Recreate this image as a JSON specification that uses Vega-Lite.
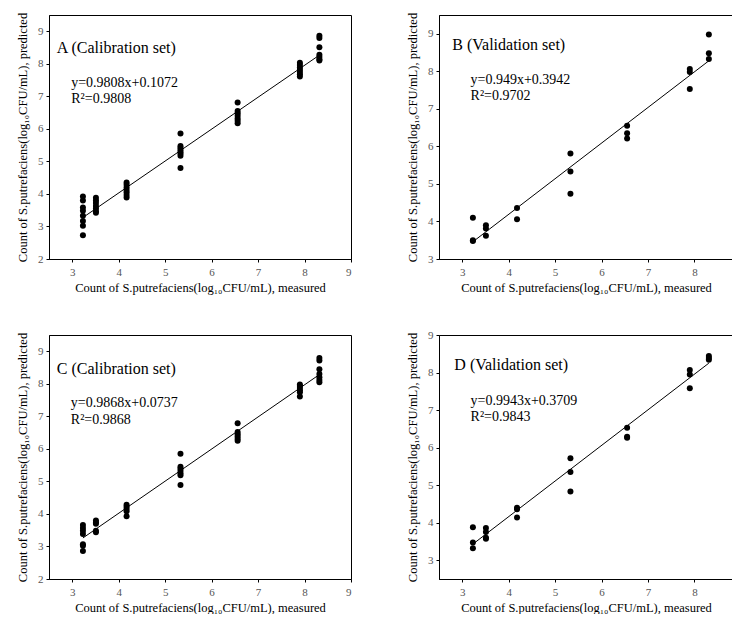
{
 "$schema": "https://vega.github.io/schema/vega-lite/v6.json",
 "background": "white",
 "padding": {"left": 15, "top": 11, "right": 0, "bottom": 0},
 "config": {
   "font": "Liberation Serif",
   "view": {"stroke": "black", "strokeWidth": 1},
   "axis": {"domainColor": "black", "tickColor": "black", "tickSize": 3, "grid": false,
            "labelFont": "Liberation Serif", "labelFontSize": 11, "labelColor": "#555", "labelOverlap": false,
            "titleFont": "Liberation Serif", "titleFontSize": 12.5, "titleFontWeight": "normal", "titleColor": "black"},
   "axisX": {"labelPadding": 4, "titlePadding": 4},
   "axisY": {"labelPadding": 3, "titlePadding": 8},
   "text": {"font": "Liberation Serif", "color": "black"}
 },
 "datasets": {
  "A": [
   {"measured":3.23,"predicted":3.92,"kind":"point"},{"measured":3.23,"predicted":3.80,"kind":"point"},{"measured":3.23,"predicted":3.58,"kind":"point"},{"measured":3.23,"predicted":3.48,"kind":"point"},{"measured":3.23,"predicted":3.33,"kind":"point"},{"measured":3.23,"predicted":3.17,"kind":"point"},{"measured":3.23,"predicted":3.02,"kind":"point"},{"measured":3.23,"predicted":2.73,"kind":"point"},
   {"measured":3.51,"predicted":3.88,"kind":"point"},{"measured":3.51,"predicted":3.80,"kind":"point"},{"measured":3.51,"predicted":3.72,"kind":"point"},{"measured":3.51,"predicted":3.63,"kind":"point"},{"measured":3.51,"predicted":3.55,"kind":"point"},{"measured":3.51,"predicted":3.47,"kind":"point"},{"measured":3.51,"predicted":3.42,"kind":"point"},
   {"measured":4.17,"predicted":4.35,"kind":"point"},{"measured":4.17,"predicted":4.28,"kind":"point"},{"measured":4.17,"predicted":4.20,"kind":"point"},{"measured":4.17,"predicted":4.12,"kind":"point"},{"measured":4.17,"predicted":4.05,"kind":"point"},{"measured":4.17,"predicted":3.97,"kind":"point"},{"measured":4.17,"predicted":3.89,"kind":"point"},
   {"measured":5.33,"predicted":5.86,"kind":"point"},{"measured":5.33,"predicted":5.47,"kind":"point"},{"measured":5.33,"predicted":5.42,"kind":"point"},{"measured":5.33,"predicted":5.36,"kind":"point"},{"measured":5.33,"predicted":5.30,"kind":"point"},{"measured":5.33,"predicted":5.24,"kind":"point"},{"measured":5.33,"predicted":5.17,"kind":"point"},{"measured":5.33,"predicted":4.80,"kind":"point"},
   {"measured":6.56,"predicted":6.81,"kind":"point"},{"measured":6.56,"predicted":6.55,"kind":"point"},{"measured":6.56,"predicted":6.48,"kind":"point"},{"measured":6.56,"predicted":6.40,"kind":"point"},{"measured":6.56,"predicted":6.32,"kind":"point"},{"measured":6.56,"predicted":6.25,"kind":"point"},{"measured":6.56,"predicted":6.17,"kind":"point"},
   {"measured":7.9,"predicted":8.03,"kind":"point"},{"measured":7.9,"predicted":7.96,"kind":"point"},{"measured":7.9,"predicted":7.89,"kind":"point"},{"measured":7.9,"predicted":7.82,"kind":"point"},{"measured":7.9,"predicted":7.75,"kind":"point"},{"measured":7.9,"predicted":7.68,"kind":"point"},{"measured":7.9,"predicted":7.61,"kind":"point"},
   {"measured":8.32,"predicted":8.86,"kind":"point"},{"measured":8.32,"predicted":8.79,"kind":"point"},{"measured":8.32,"predicted":8.51,"kind":"point"},{"measured":8.32,"predicted":8.28,"kind":"point"},{"measured":8.32,"predicted":8.21,"kind":"point"},{"measured":8.32,"predicted":8.14,"kind":"point"},{"measured":8.32,"predicted":8.10,"kind":"point"},
   {"measured":3.23,"predicted":3.275,"kind":"fit"},{"measured":8.32,"predicted":8.267,"kind":"fit"}
  ],
  "B": [
   {"measured":3.23,"predicted":4.10,"kind":"point"},{"measured":3.23,"predicted":3.50,"kind":"point"},{"measured":3.23,"predicted":3.48,"kind":"point"},
   {"measured":3.51,"predicted":3.90,"kind":"point"},{"measured":3.51,"predicted":3.81,"kind":"point"},{"measured":3.51,"predicted":3.62,"kind":"point"},
   {"measured":4.18,"predicted":4.36,"kind":"point"},{"measured":4.18,"predicted":4.06,"kind":"point"},
   {"measured":5.33,"predicted":5.81,"kind":"point"},{"measured":5.33,"predicted":5.33,"kind":"point"},{"measured":5.33,"predicted":4.74,"kind":"point"},
   {"measured":6.55,"predicted":6.55,"kind":"point"},{"measured":6.55,"predicted":6.35,"kind":"point"},{"measured":6.55,"predicted":6.21,"kind":"point"},
   {"measured":7.9,"predicted":8.06,"kind":"point"},{"measured":7.9,"predicted":7.98,"kind":"point"},{"measured":7.9,"predicted":7.53,"kind":"point"},
   {"measured":8.31,"predicted":8.98,"kind":"point"},{"measured":8.31,"predicted":8.48,"kind":"point"},{"measured":8.31,"predicted":8.33,"kind":"point"},
   {"measured":3.23,"predicted":3.459,"kind":"fit"},{"measured":8.31,"predicted":8.280,"kind":"fit"}
  ],
  "C": [
   {"measured":3.23,"predicted":3.66,"kind":"point"},{"measured":3.23,"predicted":3.57,"kind":"point"},{"measured":3.23,"predicted":3.48,"kind":"point"},{"measured":3.23,"predicted":3.38,"kind":"point"},{"measured":3.23,"predicted":3.07,"kind":"point"},{"measured":3.23,"predicted":3.02,"kind":"point"},{"measured":3.23,"predicted":2.86,"kind":"point"},
   {"measured":3.51,"predicted":3.80,"kind":"point"},{"measured":3.51,"predicted":3.74,"kind":"point"},{"measured":3.51,"predicted":3.70,"kind":"point"},{"measured":3.51,"predicted":3.48,"kind":"point"},{"measured":3.51,"predicted":3.44,"kind":"point"},
   {"measured":4.17,"predicted":4.28,"kind":"point"},{"measured":4.17,"predicted":4.22,"kind":"point"},{"measured":4.17,"predicted":4.15,"kind":"point"},{"measured":4.17,"predicted":4.08,"kind":"point"},{"measured":4.17,"predicted":3.93,"kind":"point"},
   {"measured":5.33,"predicted":5.85,"kind":"point"},{"measured":5.33,"predicted":5.45,"kind":"point"},{"measured":5.33,"predicted":5.40,"kind":"point"},{"measured":5.33,"predicted":5.33,"kind":"point"},{"measured":5.33,"predicted":5.25,"kind":"point"},{"measured":5.33,"predicted":5.19,"kind":"point"},{"measured":5.33,"predicted":4.89,"kind":"point"},
   {"measured":6.56,"predicted":6.79,"kind":"point"},{"measured":6.56,"predicted":6.52,"kind":"point"},{"measured":6.56,"predicted":6.45,"kind":"point"},{"measured":6.56,"predicted":6.38,"kind":"point"},{"measured":6.56,"predicted":6.31,"kind":"point"},{"measured":6.56,"predicted":6.25,"kind":"point"},
   {"measured":7.9,"predicted":7.98,"kind":"point"},{"measured":7.9,"predicted":7.93,"kind":"point"},{"measured":7.9,"predicted":7.87,"kind":"point"},{"measured":7.9,"predicted":7.80,"kind":"point"},{"measured":7.9,"predicted":7.74,"kind":"point"},{"measured":7.9,"predicted":7.61,"kind":"point"},
   {"measured":8.32,"predicted":8.79,"kind":"point"},{"measured":8.32,"predicted":8.72,"kind":"point"},{"measured":8.32,"predicted":8.45,"kind":"point"},{"measured":8.32,"predicted":8.30,"kind":"point"},{"measured":8.32,"predicted":8.20,"kind":"point"},{"measured":8.32,"predicted":8.12,"kind":"point"},{"measured":8.32,"predicted":8.05,"kind":"point"},
   {"measured":3.23,"predicted":3.261,"kind":"fit"},{"measured":8.32,"predicted":8.284,"kind":"fit"}
  ],
  "D": [
   {"measured":3.23,"predicted":3.88,"kind":"point"},{"measured":3.23,"predicted":3.47,"kind":"point"},{"measured":3.23,"predicted":3.32,"kind":"point"},
   {"measured":3.51,"predicted":3.86,"kind":"point"},{"measured":3.51,"predicted":3.75,"kind":"point"},{"measured":3.51,"predicted":3.60,"kind":"point"},{"measured":3.51,"predicted":3.57,"kind":"point"},
   {"measured":4.18,"predicted":4.40,"kind":"point"},{"measured":4.18,"predicted":4.36,"kind":"point"},{"measured":4.18,"predicted":4.14,"kind":"point"},
   {"measured":5.33,"predicted":5.72,"kind":"point"},{"measured":5.33,"predicted":5.35,"kind":"point"},{"measured":5.33,"predicted":4.83,"kind":"point"},
   {"measured":6.55,"predicted":6.53,"kind":"point"},{"measured":6.55,"predicted":6.29,"kind":"point"},{"measured":6.55,"predicted":6.26,"kind":"point"},
   {"measured":7.9,"predicted":8.07,"kind":"point"},{"measured":7.9,"predicted":7.95,"kind":"point"},{"measured":7.9,"predicted":7.58,"kind":"point"},
   {"measured":8.31,"predicted":8.44,"kind":"point"},{"measured":8.31,"predicted":8.39,"kind":"point"},{"measured":8.31,"predicted":8.34,"kind":"point"},
   {"measured":3.23,"predicted":3.43,"kind":"fit"},{"measured":8.31,"predicted":8.25,"kind":"fit"}
  ]
 },
 "columns": 2,
 "bounds": "flush",
 "spacing": {"row": 76, "column": 88},
 "concat": [
  {
   "width": 302, "height": 244,
   "layer": [
    {"data": {"name": "A"}, "transform": [{"filter": "datum.kind == 'fit'"}], "mark": {"type": "line", "color": "black", "strokeWidth": 1},
     "encoding": {
      "x": {"field": "measured", "type": "quantitative", "scale": {"domain": [2.5, 9], "nice": false, "zero": false}, "axis": {"values": [3,4,5,6,7,8,9], "title": "Count of S.putrefaciens(log₁₀CFU/mL), measured"}},
      "y": {"field": "predicted", "type": "quantitative", "scale": {"domain": [2, 9.5], "nice": false, "zero": false}, "axis": {"values": [2,3,4,5,6,7,8,9], "title": "Count of S.putrefaciens(log₁₀CFU/mL), predicted"}}
     }},
    {"data": {"name": "A"}, "transform": [{"filter": "datum.kind == 'point'"}], "mark": {"type": "point", "shape": "circle", "filled": true, "size": 36, "color": "black", "opacity": 1},
     "encoding": {
      "x": {"field": "measured", "type": "quantitative", "scale": {"domain": [2.5, 9], "nice": false, "zero": false}, "axis": {"values": [3,4,5,6,7,8,9], "title": "Count of S.putrefaciens(log₁₀CFU/mL), measured"}},
      "y": {"field": "predicted", "type": "quantitative", "scale": {"domain": [2, 9.5], "nice": false, "zero": false}, "axis": {"values": [2,3,4,5,6,7,8,9], "title": "Count of S.putrefaciens(log₁₀CFU/mL), predicted"}}
     }},
    {"data": {"values": [{"label": "A (Calibration set)"}]}, "mark": {"type": "text", "align": "left", "baseline": "alphabetic", "fontSize": 16},
     "encoding": {"x": {"datum": 2.668, "type": "quantitative", "axis": {"values": [3,4,5,6,7,8,9], "title": "Count of S.putrefaciens(log₁₀CFU/mL), measured"}}, "y": {"datum": 8.34, "type": "quantitative", "axis": {"values": [2,3,4,5,6,7,8,9], "title": "Count of S.putrefaciens(log₁₀CFU/mL), predicted"}}, "text": {"field": "label"}}},
    {"data": {"values": [{"label": "y=0.9808x+0.1072"}]}, "mark": {"type": "text", "align": "left", "baseline": "alphabetic", "fontSize": 14},
     "encoding": {"x": {"datum": 2.978, "type": "quantitative", "axis": {"values": [3,4,5,6,7,8,9], "title": "Count of S.putrefaciens(log₁₀CFU/mL), measured"}}, "y": {"datum": 7.29, "type": "quantitative", "axis": {"values": [2,3,4,5,6,7,8,9], "title": "Count of S.putrefaciens(log₁₀CFU/mL), predicted"}}, "text": {"field": "label"}}},
    {"data": {"values": [{"label": "R²=0.9808"}]}, "mark": {"type": "text", "align": "left", "baseline": "alphabetic", "fontSize": 14},
     "encoding": {"x": {"datum": 2.978, "type": "quantitative", "axis": {"values": [3,4,5,6,7,8,9], "title": "Count of S.putrefaciens(log₁₀CFU/mL), measured"}}, "y": {"datum": 6.79, "type": "quantitative", "axis": {"values": [2,3,4,5,6,7,8,9], "title": "Count of S.putrefaciens(log₁₀CFU/mL), predicted"}}, "text": {"field": "label"}}}
   ]
  },
  {
   "width": 294, "height": 244,
   "layer": [
    {"data": {"name": "B"}, "transform": [{"filter": "datum.kind == 'fit'"}], "mark": {"type": "line", "color": "black", "strokeWidth": 1},
     "encoding": {
      "x": {"field": "measured", "type": "quantitative", "scale": {"domain": [2.5, 8.83], "nice": false, "zero": false}, "axis": {"values": [3,4,5,6,7,8], "title": "Count of S.putrefaciens(log₁₀CFU/mL), measured"}},
      "y": {"field": "predicted", "type": "quantitative", "scale": {"domain": [3, 9.5], "nice": false, "zero": false}, "axis": {"values": [3,4,5,6,7,8,9], "title": "Count of S.putrefaciens(log₁₀CFU/mL), predicted"}}
     }},
    {"data": {"name": "B"}, "transform": [{"filter": "datum.kind == 'point'"}], "mark": {"type": "point", "shape": "circle", "filled": true, "size": 36, "color": "black", "opacity": 1},
     "encoding": {
      "x": {"field": "measured", "type": "quantitative", "scale": {"domain": [2.5, 8.83], "nice": false, "zero": false}, "axis": {"values": [3,4,5,6,7,8], "title": "Count of S.putrefaciens(log₁₀CFU/mL), measured"}},
      "y": {"field": "predicted", "type": "quantitative", "scale": {"domain": [3, 9.5], "nice": false, "zero": false}, "axis": {"values": [3,4,5,6,7,8,9], "title": "Count of S.putrefaciens(log₁₀CFU/mL), predicted"}}
     }},
    {"data": {"values": [{"label": "B (Validation set)"}]}, "mark": {"type": "text", "align": "left", "baseline": "alphabetic", "fontSize": 16},
     "encoding": {"x": {"datum": 2.786, "type": "quantitative", "axis": {"values": [3,4,5,6,7,8], "title": "Count of S.putrefaciens(log₁₀CFU/mL), measured"}}, "y": {"datum": 8.57, "type": "quantitative", "axis": {"values": [3,4,5,6,7,8,9], "title": "Count of S.putrefaciens(log₁₀CFU/mL), predicted"}}, "text": {"field": "label"}}},
    {"data": {"values": [{"label": "y=0.949x+0.3942"}]}, "mark": {"type": "text", "align": "left", "baseline": "alphabetic", "fontSize": 14},
     "encoding": {"x": {"datum": 3.18, "type": "quantitative", "axis": {"values": [3,4,5,6,7,8], "title": "Count of S.putrefaciens(log₁₀CFU/mL), measured"}}, "y": {"datum": 7.66, "type": "quantitative", "axis": {"values": [3,4,5,6,7,8,9], "title": "Count of S.putrefaciens(log₁₀CFU/mL), predicted"}}, "text": {"field": "label"}}},
    {"data": {"values": [{"label": "R²=0.9702"}]}, "mark": {"type": "text", "align": "left", "baseline": "alphabetic", "fontSize": 14},
     "encoding": {"x": {"datum": 3.18, "type": "quantitative", "axis": {"values": [3,4,5,6,7,8], "title": "Count of S.putrefaciens(log₁₀CFU/mL), measured"}}, "y": {"datum": 7.23, "type": "quantitative", "axis": {"values": [3,4,5,6,7,8,9], "title": "Count of S.putrefaciens(log₁₀CFU/mL), predicted"}}, "text": {"field": "label"}}}
   ]
  },
  {
   "width": 302, "height": 244,
   "layer": [
    {"data": {"name": "C"}, "transform": [{"filter": "datum.kind == 'fit'"}], "mark": {"type": "line", "color": "black", "strokeWidth": 1},
     "encoding": {
      "x": {"field": "measured", "type": "quantitative", "scale": {"domain": [2.5, 9], "nice": false, "zero": false}, "axis": {"values": [3,4,5,6,7,8,9], "title": "Count of S.putrefaciens(log₁₀CFU/mL), measured"}},
      "y": {"field": "predicted", "type": "quantitative", "scale": {"domain": [2, 9.5], "nice": false, "zero": false}, "axis": {"values": [2,3,4,5,6,7,8,9], "title": "Count of S.putrefaciens(log₁₀CFU/mL), predicted"}}
     }},
    {"data": {"name": "C"}, "transform": [{"filter": "datum.kind == 'point'"}], "mark": {"type": "point", "shape": "circle", "filled": true, "size": 36, "color": "black", "opacity": 1},
     "encoding": {
      "x": {"field": "measured", "type": "quantitative", "scale": {"domain": [2.5, 9], "nice": false, "zero": false}, "axis": {"values": [3,4,5,6,7,8,9], "title": "Count of S.putrefaciens(log₁₀CFU/mL), measured"}},
      "y": {"field": "predicted", "type": "quantitative", "scale": {"domain": [2, 9.5], "nice": false, "zero": false}, "axis": {"values": [2,3,4,5,6,7,8,9], "title": "Count of S.putrefaciens(log₁₀CFU/mL), predicted"}}
     }},
    {"data": {"values": [{"label": "C (Calibration set)"}]}, "mark": {"type": "text", "align": "left", "baseline": "alphabetic", "fontSize": 16},
     "encoding": {"x": {"datum": 2.668, "type": "quantitative", "axis": {"values": [3,4,5,6,7,8,9], "title": "Count of S.putrefaciens(log₁₀CFU/mL), measured"}}, "y": {"datum": 8.31, "type": "quantitative", "axis": {"values": [2,3,4,5,6,7,8,9], "title": "Count of S.putrefaciens(log₁₀CFU/mL), predicted"}}, "text": {"field": "label"}}},
    {"data": {"values": [{"label": "y=0.9868x+0.0737"}]}, "mark": {"type": "text", "align": "left", "baseline": "alphabetic", "fontSize": 14},
     "encoding": {"x": {"datum": 2.97, "type": "quantitative", "axis": {"values": [3,4,5,6,7,8,9], "title": "Count of S.putrefaciens(log₁₀CFU/mL), measured"}}, "y": {"datum": 7.29, "type": "quantitative", "axis": {"values": [2,3,4,5,6,7,8,9], "title": "Count of S.putrefaciens(log₁₀CFU/mL), predicted"}}, "text": {"field": "label"}}},
    {"data": {"values": [{"label": "R²=0.9868"}]}, "mark": {"type": "text", "align": "left", "baseline": "alphabetic", "fontSize": 14},
     "encoding": {"x": {"datum": 2.97, "type": "quantitative", "axis": {"values": [3,4,5,6,7,8,9], "title": "Count of S.putrefaciens(log₁₀CFU/mL), measured"}}, "y": {"datum": 6.76, "type": "quantitative", "axis": {"values": [2,3,4,5,6,7,8,9], "title": "Count of S.putrefaciens(log₁₀CFU/mL), predicted"}}, "text": {"field": "label"}}}
   ]
  },
  {
   "width": 294, "height": 244,
   "layer": [
    {"data": {"name": "D"}, "transform": [{"filter": "datum.kind == 'fit'"}], "mark": {"type": "line", "color": "black", "strokeWidth": 1},
     "encoding": {
      "x": {"field": "measured", "type": "quantitative", "scale": {"domain": [2.5, 8.83], "nice": false, "zero": false}, "axis": {"values": [3,4,5,6,7,8], "title": "Count of S.putrefaciens(log₁₀CFU/mL), measured"}},
      "y": {"field": "predicted", "type": "quantitative", "scale": {"domain": [2.5, 9], "nice": false, "zero": false}, "axis": {"values": [3,4,5,6,7,8,9], "title": "Count of S.putrefaciens(log₁₀CFU/mL), predicted"}}
     }},
    {"data": {"name": "D"}, "transform": [{"filter": "datum.kind == 'point'"}], "mark": {"type": "point", "shape": "circle", "filled": true, "size": 36, "color": "black", "opacity": 1},
     "encoding": {
      "x": {"field": "measured", "type": "quantitative", "scale": {"domain": [2.5, 8.83], "nice": false, "zero": false}, "axis": {"values": [3,4,5,6,7,8], "title": "Count of S.putrefaciens(log₁₀CFU/mL), measured"}},
      "y": {"field": "predicted", "type": "quantitative", "scale": {"domain": [2.5, 9], "nice": false, "zero": false}, "axis": {"values": [3,4,5,6,7,8,9], "title": "Count of S.putrefaciens(log₁₀CFU/mL), predicted"}}
     }},
    {"data": {"values": [{"label": "D (Validation set)"}]}, "mark": {"type": "text", "align": "left", "baseline": "alphabetic", "fontSize": 16},
     "encoding": {"x": {"datum": 2.83, "type": "quantitative", "axis": {"values": [3,4,5,6,7,8], "title": "Count of S.putrefaciens(log₁₀CFU/mL), measured"}}, "y": {"datum": 8.08, "type": "quantitative", "axis": {"values": [3,4,5,6,7,8,9], "title": "Count of S.putrefaciens(log₁₀CFU/mL), predicted"}}, "text": {"field": "label"}}},
    {"data": {"values": [{"label": "y=0.9943x+0.3709"}]}, "mark": {"type": "text", "align": "left", "baseline": "alphabetic", "fontSize": 14},
     "encoding": {"x": {"datum": 3.18, "type": "quantitative", "axis": {"values": [3,4,5,6,7,8], "title": "Count of S.putrefaciens(log₁₀CFU/mL), measured"}}, "y": {"datum": 7.13, "type": "quantitative", "axis": {"values": [3,4,5,6,7,8,9], "title": "Count of S.putrefaciens(log₁₀CFU/mL), predicted"}}, "text": {"field": "label"}}},
    {"data": {"values": [{"label": "R²=0.9843"}]}, "mark": {"type": "text", "align": "left", "baseline": "alphabetic", "fontSize": 14},
     "encoding": {"x": {"datum": 3.18, "type": "quantitative", "axis": {"values": [3,4,5,6,7,8], "title": "Count of S.putrefaciens(log₁₀CFU/mL), measured"}}, "y": {"datum": 6.71, "type": "quantitative", "axis": {"values": [3,4,5,6,7,8,9], "title": "Count of S.putrefaciens(log₁₀CFU/mL), predicted"}}, "text": {"field": "label"}}}
   ]
  }
 ]
}
